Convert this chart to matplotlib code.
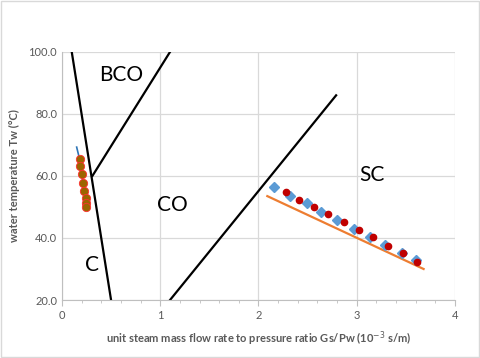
import matplotlib
matplotlib.use("Agg")
import matplotlib.pyplot as plt
from matplotlib.ticker import MultipleLocator, FormatStrFormatter

plt.rcParams['font.family'] = ['Lato', 'DejaVu Sans']

# regime boundary lines
c_x = [0.10, 0.50]
c_y = [100.0, 20.0]
bco_x = [0.31, 1.10]
bco_y = [60.0, 100.0]
sc_x = [1.10, 2.79]
sc_y = [20.0, 86.0]

# fitted line for SC data
fit_x = [2.09, 3.68]
fit_y = [53.5, 30.0]

# SC data, two series
diam_x = [2.16, 2.32, 2.49, 2.64, 2.80, 2.97, 3.13, 3.29, 3.46, 3.60]
diam_y = [56.5, 53.5, 51.2, 48.4, 45.8, 42.9, 40.4, 37.7, 35.3, 32.9]
dot_x = [2.28, 2.41, 2.57, 2.71, 2.87, 3.02, 3.17, 3.32, 3.47, 3.61]
dot_y = [54.7, 52.3, 49.9, 47.6, 45.2, 42.6, 40.2, 37.4, 35.1, 32.4]

# C regime data
cl_x = [0.15, 0.18, 0.185, 0.20, 0.215, 0.225, 0.245, 0.25, 0.25]
cl_y = [69.3, 65.4, 63.2, 60.6, 57.8, 55.3, 52.9, 51.2, 50.0]

fig = plt.figure(figsize=(4.8, 3.58), dpi=100)
ax = fig.add_axes([0.129, 0.162, 0.819, 0.693])

ax.plot(c_x, c_y, color='black', lw=1.6)
ax.plot(bco_x, bco_y, color='black', lw=1.6)
ax.plot(sc_x, sc_y, color='black', lw=1.6)
ax.plot(fit_x, fit_y, color='#ED7D31', lw=1.6)
ax.plot(diam_x, diam_y, 'D', color='#5B9BD5', ms=5.5, mec='#5B9BD5')
ax.plot(dot_x, dot_y, 'o', color='#C00000', ms=4.5, mec='#C00000')
ax.plot(cl_x, cl_y, color='#2E75B6', lw=1.2)
ax.plot(cl_x[1:], cl_y[1:], 'o', color='#9C6500', ms=6, mec='#FF3030', mew=0.6)

ax.text(0.60, 92.5, 'BCO', fontsize=15, ha='center', va='center')
ax.text(1.12, 50.6, 'CO', fontsize=15, ha='center', va='center')
ax.text(3.15, 60.3, 'SC', fontsize=15, ha='center', va='center')
ax.text(0.31, 31.3, 'C', fontsize=15, ha='center', va='center')

ax.set_xlim(0, 4)
ax.set_ylim(20, 100)
ax.xaxis.set_major_locator(MultipleLocator(1))
ax.xaxis.set_minor_locator(MultipleLocator(0.2))
ax.yaxis.set_major_locator(MultipleLocator(20))
ax.yaxis.set_major_formatter(FormatStrFormatter('%.1f'))
ax.grid(True, which='major', color='#D9D9D9', lw=0.9)
ax.set_axisbelow(True)
for s in ['top', 'right']:
    ax.spines[s].set_visible(False)
for s in ['left', 'bottom']:
    ax.spines[s].set_color('#BFBFBF')
ax.tick_params(axis='both', which='both', colors='#BFBFBF', labelcolor='#595959', labelsize=8)
ax.tick_params(axis='y', length=0)
ax.tick_params(axis='x', which='major', length=4, direction='out')
ax.tick_params(axis='x', which='minor', length=2.5, direction='out')

ax.set_xlabel('unit steam mass flow rate to pressure ratio Gs/Pw (10$^{-3}$ s/m)',
              fontsize=8, fontweight='bold', color='#595959', labelpad=6)
ax.set_ylabel('water temperature Tw (\u00b0C)', fontsize=8, fontweight='bold',
              color='#595959', labelpad=6)

fig.patches.append(plt.Rectangle((0.002, 0.003), 0.995, 0.994, transform=fig.transFigure,
                                 fill=False, ec='#D9D9D9', lw=1))

fig.savefig('out.png', dpi=100)
